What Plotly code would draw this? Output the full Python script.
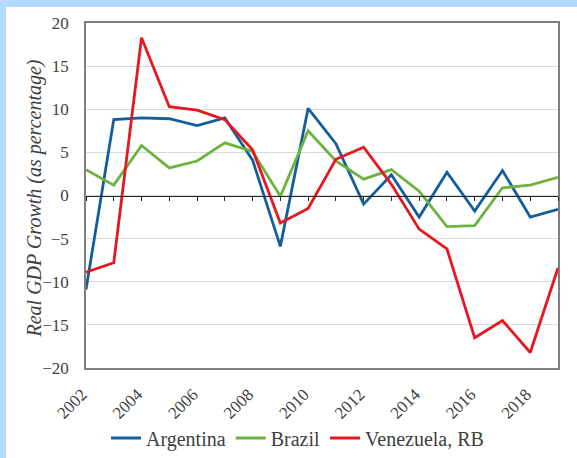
import plotly.graph_objects as go

years = list(range(2002, 2020))
argentina = [-10.9, 8.8, 9.0, 8.9, 8.1, 9.0, 4.1, -5.9, 10.1, 6.0, -1.0, 2.4, -2.5, 2.7, -1.8, 2.9, -2.5, -1.6]
brazil = [3.0, 1.2, 5.8, 3.2, 4.0, 6.1, 5.1, -0.1, 7.5, 4.0, 1.9, 3.0, 0.5, -3.6, -3.5, 0.9, 1.2, 2.1]
venezuela = [-8.9, -7.8, 18.3, 10.3, 9.9, 8.8, 5.3, -3.2, -1.5, 4.2, 5.6, 1.3, -3.9, -6.2, -16.5, -14.5, -18.2, -8.4]
x_tick_labels = [str(y) for y in range(2002, 2019, 2)]
y_ticks = [-20, -15, -10, -5, 0, 5, 10, 15, 20]
y_title = "Real GDP Growth (as percentage)"

FONT = "Liberation Serif"
TXT = "#404040"
BLUE_BG = "#b3dbff"

W, H = 577, 458
ML, MR, MT, MB = 86, 19, 23, 90
PW, PH = W - ML - MR, H - MT - MB

fig = go.Figure()
series = [("Argentina", argentina, "#135E9C"),
          ("Brazil", brazil, "#6DB33F"),
          ("Venezuela, RB", venezuela, "#E8161F")]
for name, vals, col in series:
    fig.add_trace(go.Scatter(x=years, y=vals, name=name, mode="lines",
                             line=dict(color=col, width=2.8)))
# invisible helper trace for the zero axis with year ticks
fig.add_trace(go.Scatter(x=[], y=[], xaxis="x2", showlegend=False, hoverinfo="skip"))

fig.update_layout(
    width=W, height=H,
    paper_bgcolor="white", plot_bgcolor="white",
    margin=dict(l=ML, r=MR, t=MT, b=MB, autoexpand=False),
    font=dict(family=FONT, color=TXT, size=17),
    xaxis=dict(range=[2002, 2019], tickvals=[int(v) for v in x_tick_labels],
               ticktext=x_tick_labels, tickangle=-45, ticks="",
               showgrid=False, showline=True, mirror=True, automargin=False,
               linecolor="#7f7f7f", linewidth=1.5, zeroline=False,
               ticklabelstandoff=8, ticklabelshift=-4,
               tickfont=dict(family=FONT, size=17, color=TXT)),
    xaxis2=dict(range=[2002, 2019], overlaying="x", anchor="free", position=0.5,
                showline=True, linecolor="#262626", linewidth=1,
                ticks="outside", tick0=2002, dtick=1, ticklen=4,
                tickcolor="#262626", tickwidth=1,
                showticklabels=False, showgrid=False, zeroline=False),
    yaxis=dict(range=[-20, 20], tickvals=y_ticks, showgrid=True,
               gridcolor="#d9d9d9", gridwidth=1, zeroline=False, automargin=False,
               showline=True, mirror=True, linecolor="#7f7f7f", linewidth=1.5,
               ticks="", ticklabelstandoff=12,
               tickfont=dict(family=FONT, size=17, color=TXT)),
    legend=dict(orientation="h", x=(297.5 - ML) / PW, xanchor="center",
                y=-(438 - (H - MB)) / PH, yanchor="middle",
                font=dict(family=FONT, size=20, color=TXT), itemwidth=30,
                bgcolor="rgba(0,0,0,0)"),
    annotations=[dict(text=f"<i>{y_title}</i>", textangle=-90, showarrow=False,
                      xref="paper", yref="paper", x=(33.5 - ML) / PW, y=(H - MB - 199) / PH,
                      xanchor="center", yanchor="middle",
                      font=dict(family=FONT, size=20, color=TXT))],
    shapes=[
        dict(type="rect", xref="paper", yref="paper", x0=-ML / PW, x1=(6 - ML) / PW,
             y0=-MB / PH, y1=(PH + MT) / PH, fillcolor=BLUE_BG,
             line=dict(width=0), layer="below"),
        dict(type="rect", xref="paper", yref="paper", x0=-ML / PW, x1=(PW + MR) / PW,
             y0=(PH + MT - 7) / PH, y1=(PH + MT) / PH, fillcolor=BLUE_BG,
             line=dict(width=0), layer="below"),
    ],
)

fig.write_html("out.html", config={"displayModeBar": False},
               post_script="document.body.style.margin='0';")
